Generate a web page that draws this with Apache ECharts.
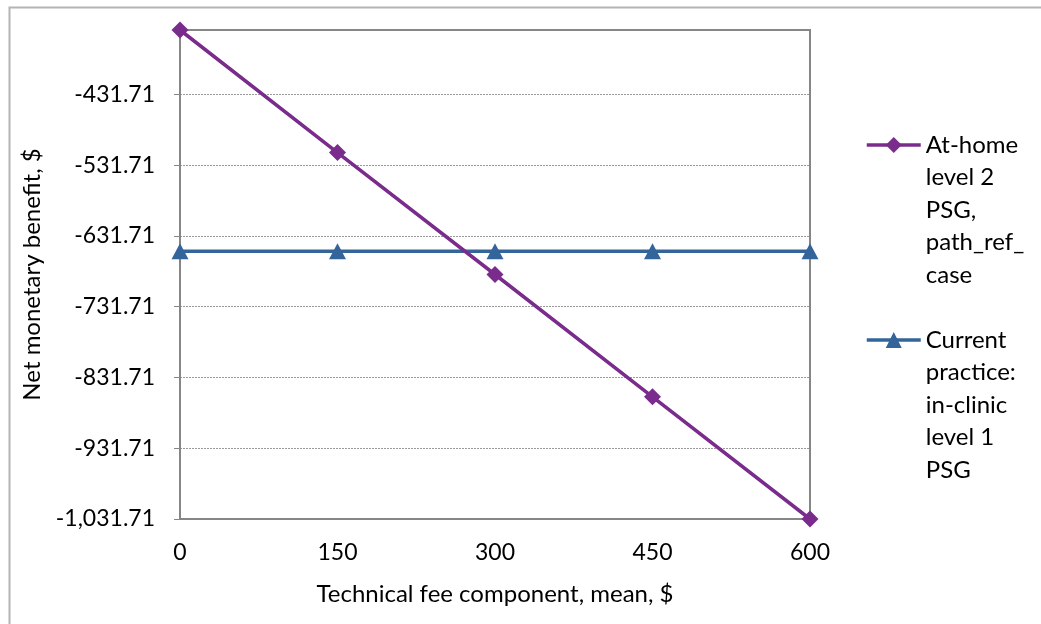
<!DOCTYPE html>
<html>
<head>
<meta charset="utf-8">
<script src="https://cdn.jsdelivr.net/npm/echarts@6/dist/echarts.min.js"></script>
<style>html,body{margin:0;padding:0;background:#fff}#c{width:1041px;height:624px}</style>
</head>
<body>
<div id="c"></div>
<script>
const xValues = [0, 150, 300, 450, 600];
const atHomeValues = [-340.71, -513.9, -686.2, -859.0, -1031.71];
const currentValues = [-653.3, -653.3, -653.3, -653.3, -653.3];
const yTicks = [-1031.71, -931.71, -831.71, -731.71, -631.71, -531.71, -431.71];
const xTicks = [0, 150, 300, 450, 600];
const seriesNames = ['At-home\nlevel 2\nPSG,\npath_ref_\ncase', 'Current\npractice:\nin-clinic\nlevel 1\nPSG'];

const FONT = 'Lato';
const fmt = v => {
  const s = Math.abs(v).toFixed(2).replace(/\B(?=(\d{3})+(?!\d))/g, ',');
  return (v < 0 ? '-' : '') + s;
};
const chart = echarts.init(document.getElementById('c'));
const LH = 32.5;
const legendText = { fontFamily: FONT, fontSize: 24, color: '#000', lineHeight: LH };
const legendFmt = n => ' \n \n \n \n' + n;
const legendBase = {
  orient: 'vertical', left: 865, padding: 0, itemWidth: 54, itemHeight: 20,
  textStyle: legendText, formatter: legendFmt, lineStyle: { width: 3.5 }
};
chart.setOption({
  animation: false,
  graphic: [{
    type: 'rect', left: 7, top: 5, silent: true,
    shape: { width: 1100, height: 700 },
    style: { fill: 'none', stroke: '#b4b4b4', lineWidth: 2 }
  }],
  grid: { left: 180, right: 231, top: 30, bottom: 105, show: true, borderColor: '#868686', borderWidth: 2, backgroundColor: 'transparent' },
  legend: [
    Object.assign({}, legendBase, { data: [seriesNames[0]], top: 145 - 4.5 * LH }),
    Object.assign({}, legendBase, { data: [seriesNames[1]], top: 340 - 4.5 * LH })
  ],
  xAxis: {
    type: 'value', min: 0, max: 600, interval: 150,
    name: 'Technical fee component, mean, $', nameLocation: 'middle', nameGap: 63,
    nameTextStyle: { fontFamily: FONT, fontSize: 24, color: '#000' },
    axisLine: { show: true, lineStyle: { color: '#868686', width: 2 } },
    axisTick: { show: false },
    splitLine: { show: false },
    axisLabel: { fontFamily: FONT, fontSize: 23, color: '#000', margin: 22, customValues: xTicks }
  },
  yAxis: {
    type: 'value', min: -1031.71, max: -340.71,
    name: 'Net monetary benefit, $', nameLocation: 'middle', nameGap: 136,
    nameTextStyle: { fontFamily: FONT, fontSize: 24, color: '#000' },
    axisLine: { show: true, lineStyle: { color: '#868686', width: 2 } },
    axisTick: { show: true, length: 6, lineStyle: { color: '#868686', width: 1 }, customValues: yTicks },
    splitLine: { show: true, lineStyle: { color: '#9a9a9a', width: 1, type: [2, 1] } },
    axisLabel: { fontFamily: FONT, fontSize: 23, color: '#000', margin: 25, customValues: yTicks, formatter: fmt }
  },
  series: [
    {
      name: seriesNames[0], type: 'line', data: xValues.map((x, i) => [x, atHomeValues[i]]),
      symbol: 'diamond', symbolSize: 17, showAllSymbol: true,
      lineStyle: { color: '#7a2c8c', width: 3.5 }, itemStyle: { color: '#7a2c8c' }, z: 3
    },
    {
      name: seriesNames[1], type: 'line', data: xValues.map((x, i) => [x, currentValues[i]]),
      symbol: 'triangle', symbolSize: [17, 16], showAllSymbol: true,
      lineStyle: { color: '#33649a', width: 3.5 }, itemStyle: { color: '#33649a' }, z: 2
    }
  ]
});
</script>
</body>
</html>
